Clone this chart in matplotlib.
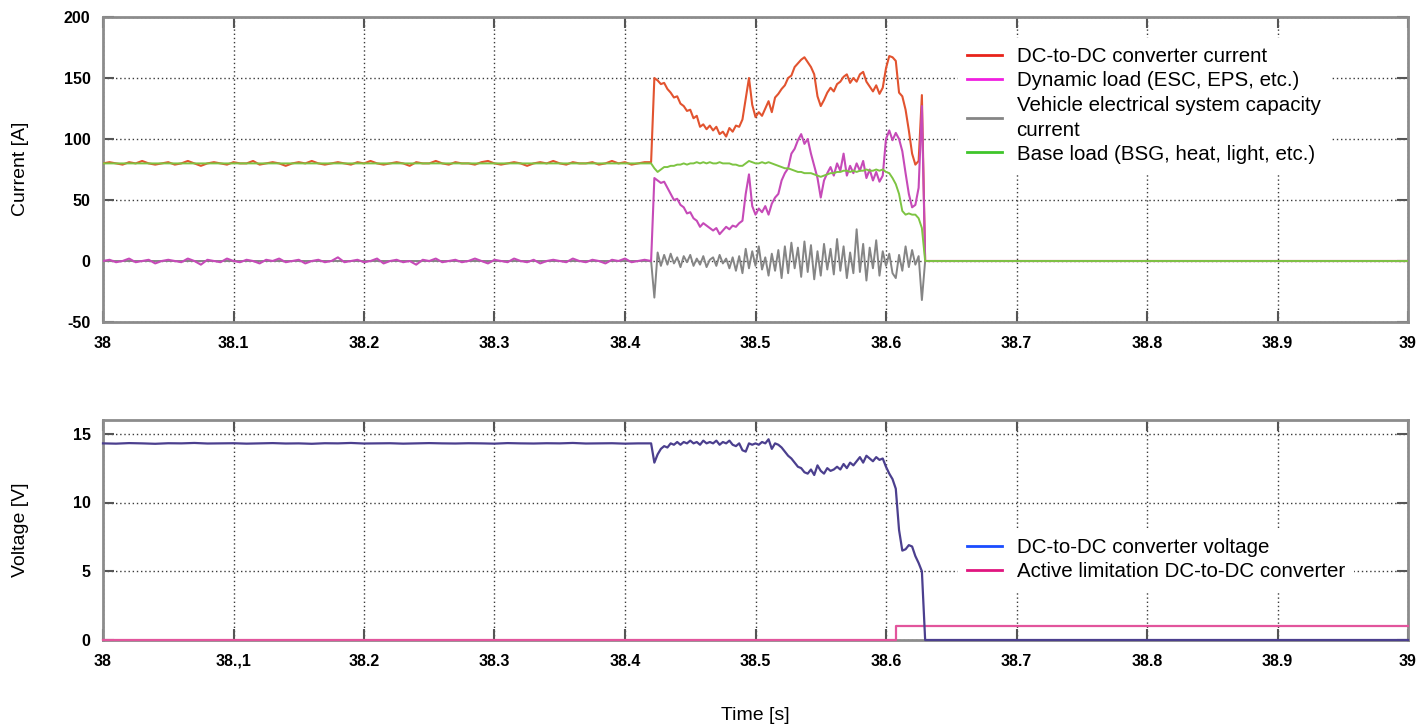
import numpy as np
import matplotlib
matplotlib.use("Agg")
import matplotlib.pyplot as plt
from matplotlib.lines import Line2D

plt.rcParams['font.family'] = ['Liberation Sans', 'DejaVu Sans']

# ---------------- data ----------------
# time grids
t_pre = np.round(38.0 + 0.005 * np.arange(84), 4)      # 38.000 .. 38.415
t_evt = np.round(38.42 + 0.0025 * np.arange(85), 4)    # 38.420 .. 38.630
t_vpre = np.round(38.0 + 0.01 * np.arange(42), 4)      # 38.00 .. 38.41
t_end = [39.0]

red_pre = [80, 81, 80, 79, 81, 80, 82, 80, 79, 80, 81, 79, 80, 82, 80, 78, 80, 81, 80, 79,
           81, 80, 80, 82, 79, 80, 81, 80, 78, 80, 81, 80, 82, 80, 79, 80, 81, 80, 79, 81,
           80, 82, 80, 79, 80, 81, 80, 78, 81, 80, 80, 82, 80, 79, 81, 80, 80, 79, 81, 82,
           80, 79, 80, 81, 80, 78, 80, 81, 80, 82, 80, 79, 81, 80, 80, 81, 79, 80, 82, 80,
           81, 79, 80, 81]
mag_pre = [0, 1, -1, 0, 2, -1, 0, 1, -2, 0, 1, 0, -1, 2, 0, -3, 1, 0, -1, 2,
           0, -1, 1, 0, -2, 1, 0, 2, -1, 0, 1, -2, 0, 1, -1, 0, 3, -1, 0, 1,
           -1, 0, 2, -2, 0, 1, -1, 0, -3, 1, 0, 2, -1, 0, 1, -1, 0, 2, 0, -2,
           1, 0, -1, 2, 0, -1, 1, -2, 0, 1, 0, -1, 2, 0, -1, 1, 0, -2, 1, 0,
           2, -1, 0, 1]

red_evt = [81, 150, 148, 145, 146, 141, 138, 134, 135, 129, 127, 123, 124, 117, 119, 110, 112, 108, 111, 107,
           110, 104, 106, 102, 109, 106, 111, 110, 116, 133, 150, 128, 118, 122, 119, 125, 131, 122, 134, 137,
           141, 144, 150, 152, 159, 162, 165, 167, 163, 159, 153, 135, 127, 132, 138, 142, 139, 145, 147, 151,
           153, 146, 150, 147, 153, 155, 147, 143, 139, 144, 137, 142, 158, 168, 167, 164, 138, 135, 124, 107,
           88, 79, 82, 136, 0]
mag_evt = [0, 68, 66, 64, 65, 60, 55, 50, 51, 46, 44, 39, 40, 35, 33, 28, 31, 29, 27, 25,
           27, 22, 25, 28, 26, 29, 28, 31, 33, 55, 71, 45, 38, 43, 40, 45, 38, 47, 52, 55,
           66, 72, 76, 88, 92, 99, 104, 96, 100, 88, 78, 68, 52, 66, 72, 77, 70, 80, 74, 88,
           70, 78, 72, 80, 74, 82, 68, 75, 66, 73, 65, 70, 100, 107, 99, 105, 100, 90, 72, 55,
           44, 46, 60, 127, 0]
green_evt = [80, 76, 73, 75, 77, 77, 78, 78, 79, 79, 80, 79, 80, 80, 81, 80, 81, 80, 81, 80,
             80, 81, 80, 80, 80, 79, 79, 78, 78, 80, 82, 81, 80, 80, 81, 80, 81, 80, 79, 78,
             77, 76, 76, 75, 74, 73, 73, 72, 72, 72, 71, 70, 69, 70, 71, 72, 72, 73, 73, 74,
             74, 73, 74, 73, 74, 74, 75, 74, 74, 75, 74, 75, 73, 72, 68, 63, 55, 41, 38, 39,
             38, 38, 35, 27, 0]
gray_evt = [0, -30, 7, -4, 5, -3, 6, -2, 3, -5, 4, -1, 5, -4, 2, -3, 4, -5, 1, 3,
            -4, 5, -2, 2, -6, 3, -8, 4, -10, 10, -6, 8, -4, 12, -7, 3, -12, 6, -8, 9,
            -14, 12, -10, 15, -6, 11, -13, 16, -9, 13, -15, 8, -12, 14, -7, 10, -11, 18, -8, 12,
            -14, 7, -10, 26, -9, 14, -16, 11, -6, 17, -12, 8, -4, 6, -10, -14, 5, -8, 12, -5,
            9, -3, 4, -32, 0]

volt_pre = [14.30, 14.28, 14.32, 14.30, 14.27, 14.31, 14.30, 14.33, 14.29, 14.30,
            14.31, 14.28, 14.30, 14.32, 14.29, 14.30, 14.27, 14.31, 14.30, 14.33,
            14.29, 14.30, 14.31, 14.28, 14.30, 14.32, 14.30, 14.29, 14.31, 14.30,
            14.28, 14.32, 14.30, 14.29, 14.31, 14.30, 14.33, 14.29, 14.30, 14.31,
            14.28, 14.30]
volt_evt = [14.3, 12.9, 13.5, 13.9, 14.1, 14.0, 14.3, 14.2, 14.4, 14.2, 14.4, 14.3, 14.5, 14.3, 14.4, 14.2,
            14.5, 14.3, 14.4, 14.3, 14.5, 14.2, 14.4, 14.3, 14.5, 14.2, 14.1, 14.3, 13.8, 13.7, 14.3, 14.2,
            14.3, 14.2, 14.4, 14.3, 14.6, 13.9, 14.3, 14.2, 14.0, 13.7, 13.4, 13.2, 12.9, 12.6, 12.5, 12.2,
            12.1, 12.4, 12.0, 12.7, 12.3, 12.1, 12.5, 12.3, 12.4, 12.6, 12.4, 12.8, 12.5, 12.9, 12.7, 13.0,
            13.3, 12.9, 13.4, 13.2, 13.0, 13.3, 13.1, 13.2, 12.6, 12.1, 11.7, 11.0, 8.0, 6.5, 6.6, 6.9,
            6.8, 6.1, 5.6, 5.0, 0.0]
limit_t = [38.0, 38.6077, 39.0]
limit_v = [0, 1, 1]

x_ticks = [38.0, 38.1, 38.2, 38.3, 38.4, 38.5, 38.6, 38.7, 38.8, 38.9, 39.0]
x_labels_top = ['38', '38.1', '38.2', '38.3', '38.4', '38.5', '38.6', '38.7', '38.8', '38.9', '39']
x_labels_bot = ['38', '38.,1', '38.2', '38.3', '38.4', '38.5', '38.6', '38.7', '38.8', '38.9', '39']
y_ticks_top = [-50, 0, 50, 100, 150, 200]
y_labels_top = ['-50', '0', '50', '100', '150', '200']
y_ticks_bot = [0, 5, 10, 15]
y_labels_bot = ['0', '5', '10', '15']

labels_top = ['DC-to-DC converter current', 'Dynamic load (ESC, EPS, etc.)',
              'Vehicle electrical system capacity\ncurrent', 'Base load (BSG, heat, light, etc.)']
labels_bot = ['DC-to-DC converter voltage', 'Active limitation DC-to-DC converter']

# ---------------- styling ----------------
c_red, c_mag, c_gray, c_green = '#e2532f', '#c64ab8', '#858585', '#7dc442'
c_volt, c_lim = '#4b3f8e', '#e2559c'
h_red, h_mag, h_gray, h_green = '#e8231a', '#f01fe0', '#858585', '#3fc52a'
h_volt, h_lim = '#1a4cff', '#e0157f'

W, H = 1422, 728
fig = plt.figure(figsize=(W / 100, H / 100), dpi=100)
ax1 = fig.add_axes([103 / W, 1 - 322 / H, 1305 / W, 305 / H])
ax2 = fig.add_axes([103 / W, 1 - 640 / H, 1305 / W, 220 / H])

# top plot
t_full = list(t_pre) + list(t_evt) + t_end
ax1.plot([38.0] + list(t_evt) + t_end, [0] + gray_evt + [0], color=c_gray, lw=1.4, zorder=3)
ax1.plot(t_full, red_pre + red_evt + [0], color=c_red, lw=1.5, zorder=4)
ax1.plot(t_full, mag_pre + mag_evt + [0], color=c_mag, lw=1.5, zorder=5)
ax1.plot([38.0] + list(t_evt) + t_end, [80] + green_evt + [0], color=c_green, lw=1.4, zorder=6)

# bottom plot
ax2.plot(limit_t, limit_v, color=c_lim, lw=1.6, drawstyle='steps-post', zorder=3, clip_on=False)
ax2.plot(list(t_vpre) + list(t_evt) + t_end, volt_pre + volt_evt + [0.0], color=c_volt, lw=1.6, zorder=4,
         clip_on=False)

for ax, yt, yl, xl, ylim in [(ax1, y_ticks_top, y_labels_top, x_labels_top, (-50, 200)),
                             (ax2, y_ticks_bot, y_labels_bot, x_labels_bot, (0, 16))]:
    ax.set_xlim(38.0, 39.0)
    ax.set_ylim(*ylim)
    ax.set_xticks(x_ticks)
    ax.set_xticklabels(xl, fontweight='bold', fontsize=11.5)
    ax.set_yticks(yt)
    ax.set_yticklabels(yl, fontweight='bold', fontsize=11.5)
    ax.grid(True, linestyle=(0, (1, 2)), color='#3a3a3a', lw=1.0, zorder=1)
    ax.tick_params(direction='in', length=8, width=1.5, color='#555555',
                   top=True, right=True, pad=9)
    ax.tick_params(axis='x', pad=10)
    for s in ax.spines.values():
        s.set_color('#8c8c8c')
        s.set_linewidth(2)
    ax.set_axisbelow(True)

fig.text(21 / W, 1 - 169 / H, 'Current [A]', rotation=90, ha='center', va='center', fontsize=14)
fig.text(21 / W, 1 - 530 / H, 'Voltage [V]', rotation=90, ha='center', va='center', fontsize=14)
fig.text(755 / W, 1 - 716 / H, 'Time [s]', ha='center', va='center', fontsize=14)

legend_kw = dict(loc='upper left', bbox_transform=fig.transFigure,
                 fontsize=14.8, frameon=True, facecolor='white', edgecolor='none', framealpha=1,
                 fancybox=False, borderpad=0.45, borderaxespad=0, handlelength=1.7,
                 handletextpad=0.7, labelspacing=0.25)

handles_top = [Line2D([], [], color=c, lw=2) for c in (h_red, h_mag, h_gray, h_green)]
leg1 = ax1.legend(handles_top, labels_top, bbox_to_anchor=(958 / W, 1 - 38 / H), **legend_kw)
for txt in leg1.get_texts():
    txt.set_linespacing(1.4)
leg1.set_zorder(10)

handles_bot = [Line2D([], [], color=c, lw=2) for c in (h_volt, h_lim)]
leg2 = ax2.legend(handles_bot, labels_bot, bbox_to_anchor=(958 / W, 1 - 529 / H), **legend_kw)
leg2.set_zorder(10)

fig.savefig('out.png', dpi=100)
